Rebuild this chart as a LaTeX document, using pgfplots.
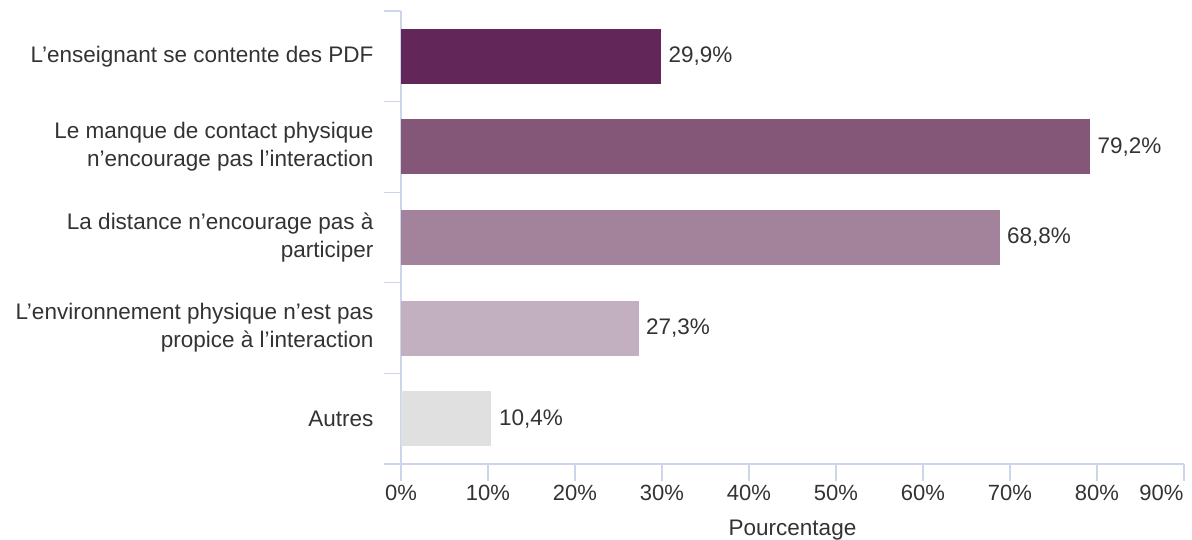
\documentclass[border=0pt]{standalone}
\usepackage{pgfplots}
\pgfplotsset{compat=1.18}
\usepackage{fontspec}
\setmainfont{Liberation Sans}
\definecolor{axc}{HTML}{CCD6EB}
\definecolor{txt}{HTML}{333333}
\definecolor{c1}{HTML}{632659}
\definecolor{c2}{HTML}{845779}
\definecolor{c3}{HTML}{A3829B}
\definecolor{c4}{HTML}{C2B0C1}
\definecolor{c5}{HTML}{E0E0E0}
\begin{document}
\begin{tikzpicture}[x=1pt,y=1pt]
\useasboundingbox (0,0) rectangle (1192,540);
\begin{axis}[
  at={(401pt,76pt)}, anchor=south west,
  scale only axis, width=783pt, height=453pt,
  xmin=0, xmax=90, ymin=-0.5, ymax=4.5, y dir=reverse,
  axis line style={axc, line width=1.3pt},
  axis x line*=bottom, axis y line*=left,
  separate axis lines,
  xtick={0,10,...,80},
  xticklabel={\pgfmathprintnumber{\tick}\%},
  extra x ticks={90},
  extra x tick labels={90\%},
  extra x tick style={xticklabel style={anchor=north east, xshift=3pt}},
  tick style={axc, line width=1.3pt},
  major tick length=17pt,
  tick align=outside,
  ytick={-0.5,0.5,1.5,2.5,3.5,4.5},
  yticklabels={},
  extra y ticks={0,1,2,3,4},
  extra y tick labels={{L’enseignant se contente des PDF},{Le manque de contact physique\\n’encourage pas l’interaction},{La distance n’encourage pas à\\participer},{L’environnement physique n’est pas\\propice à l’interaction},{Autres}},
  extra y tick style={draw=none, major tick length=0pt},
  yticklabel style={align=right, font=\fontsize{22.5}{28}\selectfont, text=txt, xshift=-24pt},
  xticklabel style={font=\fontsize{22}{26}\selectfont, text=txt, yshift=-1pt},
  /pgf/number format/assume math mode=true,
  xlabel={Pourcentage},
  xlabel style={at={(axis description cs:0.5,0)}, anchor=center, yshift=-66pt, font=\fontsize{22.5}{26}\selectfont, text=txt},
  xbar, bar width=55pt, bar shift=0pt,
  nodes near coords={\pgfmathprintnumber[fixed,precision=1,fixed zerofill,use comma]{\pgfplotspointmeta}\%},
  nodes near coords style={font=\fontsize{22.5}{26}\selectfont, text=txt, anchor=west, xshift=4pt},
  point meta=explicit,
  clip=false,
]
\addplot[fill=c1, draw=none] coordinates {(29.9,0) [29.9]};
\addplot[fill=c2, draw=none] coordinates {(79.2,1) [79.2]};
\addplot[fill=c3, draw=none] coordinates {(68.8,2) [68.8]};
\addplot[fill=c4, draw=none] coordinates {(27.3,3) [27.3]};
\addplot[fill=c5, draw=none] coordinates {(10.4,4) [10.4]};
\end{axis}
\end{tikzpicture}
\end{document}
